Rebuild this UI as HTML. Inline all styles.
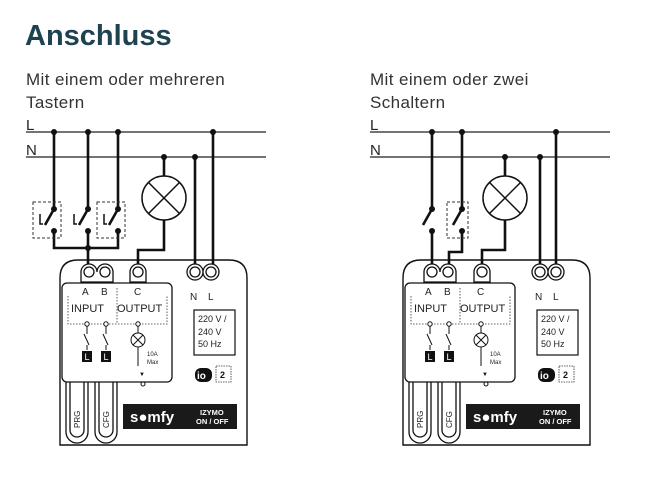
<!DOCTYPE html>
<html><head><meta charset="utf-8"><style>
html,body{margin:0;padding:0;background:#fff;width:664px;height:486px;overflow:hidden}
svg{display:block}
text{font-family:"Liberation Sans",sans-serif}
</style></head><body>
<svg width="664" height="486" viewBox="0 0 664 486" xmlns="http://www.w3.org/2000/svg">
<text x="25" y="45" font-size="29" font-weight="bold" fill="#1f4250">Anschluss</text>
<g font-size="17" fill="#333" letter-spacing="0.4">
<text x="26" y="85">Mit einem oder mehreren</text>
<text x="26" y="108">Tastern</text>
<text x="370" y="85">Mit einem oder zwei</text>
<text x="370" y="108">Schaltern</text>
</g>
<g font-size="15" fill="#222">
<text x="26" y="130">L</text><text x="26" y="155">N</text>
<text x="370" y="130">L</text><text x="370" y="155">N</text>
</g>
<g stroke="#222" stroke-width="1.3">
<line x1="26" y1="132" x2="266" y2="132"/><line x1="26" y1="157" x2="266" y2="157"/>
<line x1="370" y1="132" x2="610" y2="132"/><line x1="370" y1="157" x2="610" y2="157"/>
</g>

<!-- LEFT wiring -->
<g stroke="#111" stroke-width="2.6" fill="none">
<path d="M54 132V209M88 132V209M118 132V209"/>
<path d="M54 231V248H118V231M88 231V272"/>
<path d="M195 157V272M213 132V272"/>
<path d="M164 157V176M164 220V250H138V272"/>
<path d="M54 209L45 225M88 209L79 225M118 209L109 225"/>
</g>
<g stroke="#111" stroke-width="1.5" fill="none"><path d="M40 214V224h3M74 214V224h3M104 214V224h3"/></g>
<g stroke="#333" stroke-width="1" stroke-dasharray="3,2" fill="none">
<rect x="33" y="202" width="28" height="36"/><rect x="97" y="202" width="28" height="36"/>
</g>
<g fill="#111">
<circle cx="54" cy="132" r="3"/><circle cx="88" cy="132" r="3"/><circle cx="118" cy="132" r="3"/><circle cx="213" cy="132" r="3"/>
<circle cx="164" cy="157" r="3"/><circle cx="195" cy="157" r="3"/>
<circle cx="54" cy="209" r="3"/><circle cx="88" cy="209" r="3"/><circle cx="118" cy="209" r="3"/>
<circle cx="54" cy="231" r="3"/><circle cx="88" cy="231" r="3"/><circle cx="118" cy="231" r="3"/><circle cx="88" cy="248" r="3"/>
</g>
<g stroke="#111" stroke-width="1.5" fill="#fff"><circle cx="164" cy="198" r="22"/><path d="M148.4 182.4L179.6 213.6M179.6 182.4L148.4 213.6"/></g>

<!-- RIGHT wiring -->
<g stroke="#111" stroke-width="2.6" fill="none">
<path d="M432 132V209M462 132V209"/>
<path d="M432 231V272M462 231V252H449V272"/>
<path d="M540 157V272M556 132V272"/>
<path d="M505 157V176M505 220V250H482V272"/>
<path d="M432 209L423 225M462 209L453 225"/>
</g>
<rect x="447" y="202" width="21" height="36" stroke="#333" stroke-width="1" stroke-dasharray="3,2" fill="none"/>
<g fill="#111">
<circle cx="432" cy="132" r="3"/><circle cx="462" cy="132" r="3"/><circle cx="556" cy="132" r="3"/>
<circle cx="505" cy="157" r="3"/><circle cx="540" cy="157" r="3"/>
<circle cx="432" cy="209" r="3"/><circle cx="462" cy="209" r="3"/><circle cx="432" cy="231" r="3"/><circle cx="462" cy="231" r="3"/>
</g>
<g stroke="#111" stroke-width="1.5" fill="#fff"><circle cx="505" cy="198" r="22"/><path d="M489.4 182.4L520.6 213.6M520.6 182.4L489.4 213.6"/></g>

<!-- LEFT device -->
<g>
<path d="M60 445V278Q60 260 78 260H229Q247 260 247 278V445Z" fill="none" stroke="#111" stroke-width="1.4"/>
<g stroke="#111" stroke-width="1.3" fill="#fff">
<path d="M81 272a8 8 0 0 1 16 0v0a8 8 0 0 1 16 0v10h-32Z"/>
<circle cx="89" cy="272" r="5"/><circle cx="105" cy="272" r="5"/>
<path d="M130 282v-10a8 8 0 0 1 16 0v10Z"/><circle cx="138" cy="272" r="5"/>
<path d="M187 272a8 8 0 0 1 16 0a8 8 0 0 1 16 0a8 8 0 0 1 -16 0a8 8 0 0 1 -16 0Z"/>
<circle cx="195" cy="272" r="5"/><circle cx="211" cy="272" r="5"/>
<path d="M66 380V432a11 11 0 0 0 22 0V380Z M95 380V432a11 11 0 0 0 22 0V380Z"/>
<path d="M70 380V430a7 7 0 0 0 14 0V380 M99 380V430a7 7 0 0 0 14 0V380" fill="none"/>
<rect x="62" y="283" width="110" height="99" rx="5"/>
</g>
<g font-size="10" fill="#222"><text x="82" y="295">A</text><text x="101" y="295">B</text><text x="134" y="295">C</text>
<text x="190" y="300">N</text><text x="208" y="300">L</text>
<text x="71" y="312" font-size="11">INPUT</text><text x="117" y="312" font-size="11">OUTPUT</text></g>
<g stroke="#333" stroke-width="0.8" stroke-dasharray="1.5,1.5" fill="none"><path d="M68 296V324H167V296M117 288V324"/></g>
<g stroke="#111" stroke-width="1" fill="#fff"><circle cx="87" cy="324" r="2.2"/><circle cx="106" cy="324" r="2.2"/><circle cx="138" cy="324" r="2.2"/>
<path d="M87 326V334M87 345V350M106 326V334M106 345V350M84 334L89 345M103 334L108 345" fill="none"/>
<path d="M138 326V333M138 347V366" fill="none"/><circle cx="138" cy="340" r="7"/><path d="M133 335L143 345M143 335L133 345"/>
<circle cx="143" cy="384" r="2"/></g>
<rect x="82" y="351" width="10" height="11" fill="#111"/><rect x="101" y="351" width="10" height="11" fill="#111"/>
<text x="84.5" y="360" font-size="9" fill="#fff">L</text><text x="103.5" y="360" font-size="9" fill="#fff">L</text>
<text x="147" y="356" font-size="6" fill="#222">10A</text><text x="147" y="364" font-size="6" fill="#222">Max</text>
<text x="139" y="376" font-size="6" fill="#111">▼</text>
<rect x="194" y="310" width="41" height="45" fill="none" stroke="#111" stroke-width="1.2"/>
<g font-size="9" fill="#222"><text x="198" y="322">220 V /</text><text x="198" y="335">240 V</text><text x="198" y="347">50 Hz</text></g>
<rect x="195" y="368" width="17" height="14" rx="6" fill="#111"/><text x="197" y="379" font-size="10" font-weight="bold" fill="#fff">io</text>
<rect x="216" y="366" width="15" height="16" fill="none" stroke="#333" stroke-width="0.8" stroke-dasharray="1.5,1"/><text x="220" y="378" font-size="9" font-weight="bold" fill="#111">2</text>
<rect x="123" y="404" width="114" height="25" fill="#1a1a1a"/>
<text x="130" y="422" font-size="15" font-weight="bold" fill="#fff">s●mfy</text>
<text x="200" y="415" font-size="7.5" font-weight="bold" fill="#fff">IZYMO</text><text x="196" y="424" font-size="7.5" font-weight="bold" fill="#fff">ON / OFF</text>
<text transform="translate(80 428) rotate(-90)" font-size="8" fill="#222">PRG</text>
<text transform="translate(109 428) rotate(-90)" font-size="8" fill="#222">CFG</text>
</g>

<!-- RIGHT device -->
<g transform="translate(343 0)">
<path d="M60 445V278Q60 260 78 260H229Q247 260 247 278V445Z" fill="none" stroke="#111" stroke-width="1.4"/>
<g stroke="#111" stroke-width="1.3" fill="#fff">
<path d="M81 272a8 8 0 0 1 16 0v0a8 8 0 0 1 16 0v10h-32Z"/>
<circle cx="89" cy="272" r="5"/><circle cx="105" cy="272" r="5"/>
<path d="M131 282v-10a8 8 0 0 1 16 0v10Z"/><circle cx="139" cy="272" r="5"/>
<path d="M189 272a8 8 0 0 1 16 0a8 8 0 0 1 16 0a8 8 0 0 1 -16 0a8 8 0 0 1 -16 0Z"/>
<circle cx="197" cy="272" r="5"/><circle cx="213" cy="272" r="5"/>
<path d="M66 380V432a11 11 0 0 0 22 0V380Z M95 380V432a11 11 0 0 0 22 0V380Z"/>
<path d="M70 380V430a7 7 0 0 0 14 0V380 M99 380V430a7 7 0 0 0 14 0V380" fill="none"/>
<rect x="62" y="283" width="110" height="99" rx="5"/>
</g>
<g font-size="10" fill="#222"><text x="82" y="295">A</text><text x="101" y="295">B</text><text x="134" y="295">C</text>
<text x="192" y="300">N</text><text x="210" y="300">L</text>
<text x="71" y="312" font-size="11">INPUT</text><text x="117" y="312" font-size="11">OUTPUT</text></g>
<g stroke="#333" stroke-width="0.8" stroke-dasharray="1.5,1.5" fill="none"><path d="M68 296V324H167V296M117 288V324"/></g>
<g stroke="#111" stroke-width="1" fill="#fff"><circle cx="87" cy="324" r="2.2"/><circle cx="106" cy="324" r="2.2"/><circle cx="138" cy="324" r="2.2"/>
<path d="M87 326V334M87 345V350M106 326V334M106 345V350M84 334L89 345M103 334L108 345" fill="none"/>
<path d="M138 326V333M138 347V366" fill="none"/><circle cx="138" cy="340" r="7"/><path d="M133 335L143 345M143 335L133 345"/>
<circle cx="143" cy="384" r="2"/></g>
<rect x="82" y="351" width="10" height="11" fill="#111"/><rect x="101" y="351" width="10" height="11" fill="#111"/>
<text x="84.5" y="360" font-size="9" fill="#fff">L</text><text x="103.5" y="360" font-size="9" fill="#fff">L</text>
<text x="147" y="356" font-size="6" fill="#222">10A</text><text x="147" y="364" font-size="6" fill="#222">Max</text>
<text x="139" y="376" font-size="6" fill="#111">▼</text>
<rect x="194" y="310" width="41" height="45" fill="none" stroke="#111" stroke-width="1.2"/>
<g font-size="9" fill="#222"><text x="198" y="322">220 V /</text><text x="198" y="335">240 V</text><text x="198" y="347">50 Hz</text></g>
<rect x="195" y="368" width="17" height="14" rx="6" fill="#111"/><text x="197" y="379" font-size="10" font-weight="bold" fill="#fff">io</text>
<rect x="216" y="366" width="15" height="16" fill="none" stroke="#333" stroke-width="0.8" stroke-dasharray="1.5,1"/><text x="220" y="378" font-size="9" font-weight="bold" fill="#111">2</text>
<rect x="123" y="404" width="114" height="25" fill="#1a1a1a"/>
<text x="130" y="422" font-size="15" font-weight="bold" fill="#fff">s●mfy</text>
<text x="200" y="415" font-size="7.5" font-weight="bold" fill="#fff">IZYMO</text><text x="196" y="424" font-size="7.5" font-weight="bold" fill="#fff">ON / OFF</text>
<text transform="translate(80 428) rotate(-90)" font-size="8" fill="#222">PRG</text>
<text transform="translate(109 428) rotate(-90)" font-size="8" fill="#222">CFG</text>
</g>
</svg>
</body></html>
